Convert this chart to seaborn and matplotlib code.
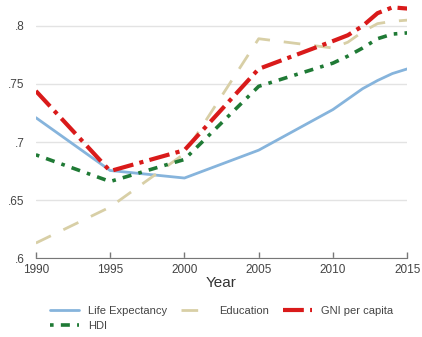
import pandas as pd
import matplotlib
matplotlib.use("Agg")
import matplotlib.pyplot as plt
import seaborn as sns

# Data
years = [1990, 1995, 2000, 2005, 2010, 2011, 2012, 2013, 2014, 2015]
life_exp = [0.721, 0.6755, 0.669, 0.693, 0.728, 0.737, 0.746, 0.753, 0.759, 0.763]
education = [0.613, 0.644, 0.690, 0.789, 0.781, 0.786, 0.795, 0.802, 0.804, 0.805]
gni = [0.744, 0.675, 0.693, 0.763, 0.787, 0.792, 0.800, 0.811, 0.816, 0.815]
hdi = [0.689, 0.666, 0.685, 0.748, 0.768, 0.774, 0.781, 0.789, 0.793, 0.794]

x_ticks = [1990, 1995, 2000, 2005, 2010, 2015]
y_ticks = [0.6, 0.65, 0.7, 0.75, 0.8]
y_labels = [".6", ".65", ".7", ".75", ".8"]

data = pd.DataFrame({"Year": years, "Life Expectancy": life_exp,
                     "Education": education, "GNI per capita": gni, "HDI": hdi})

sns.set_style("white")
plt.rcParams['font.family'] = ['Liberation Sans', 'DejaVu Sans']

fig = plt.figure(figsize=(4.22, 3.37), dpi=100)
ax = fig.add_axes([0.085, 0.234, 0.88, 0.751])

styles = {
    "Life Expectancy": dict(color="#86b4dc", linestyle="-", linewidth=2),
    "Education": dict(color="#d8cfa6", linestyle=(0, (6, 5)), linewidth=2),
    "GNI per capita": dict(color="#d91a1a", linestyle=(0, (5, 1.5, 1, 1.5)), linewidth=3),
    "HDI": dict(color="#1f7a35", linestyle=(0, (1, 2, 2.5, 2)), linewidth=2.6),
}
for name, st in styles.items():
    sns.lineplot(x="Year", y=name, data=data, ax=ax, label=name, **st)

ax.set_xlim(1990, 2015)
ax.set_ylim(0.6, 0.818)
ax.set_xticks(x_ticks)
ax.set_yticks(y_ticks)
ax.set_yticklabels(y_labels)
ax.yaxis.grid(True, color="#e3e3e3", linewidth=1)
ax.tick_params(axis="x", direction="in", length=4, width=1, color="#777777",
               labelsize=8.5, labelcolor="#444444", pad=4, bottom=True)
ax.tick_params(axis="y", length=0, labelsize=8.5, labelcolor="#444444", pad=8)
for s in ["left", "top", "right"]:
    ax.spines[s].set_visible(False)
ax.spines["bottom"].set_color("#777777")
ax.set_ylabel("")
ax.set_xlabel("Year", fontsize=11, color="#333333", labelpad=0)

# reorder so the legend reads row by row
handles, labels = ax.get_legend_handles_labels()
order = [0, 3, 1, 2]
ax.legend([handles[i] for i in order], [labels[i] for i in order],
          loc="upper center", bbox_to_anchor=(0.5, -0.15), ncol=3, frameon=False,
          fontsize=8, handlelength=2.6, columnspacing=1.3, labelspacing=0.4,
          labelcolor="#444444")

plt.savefig("out.png", dpi=100)
